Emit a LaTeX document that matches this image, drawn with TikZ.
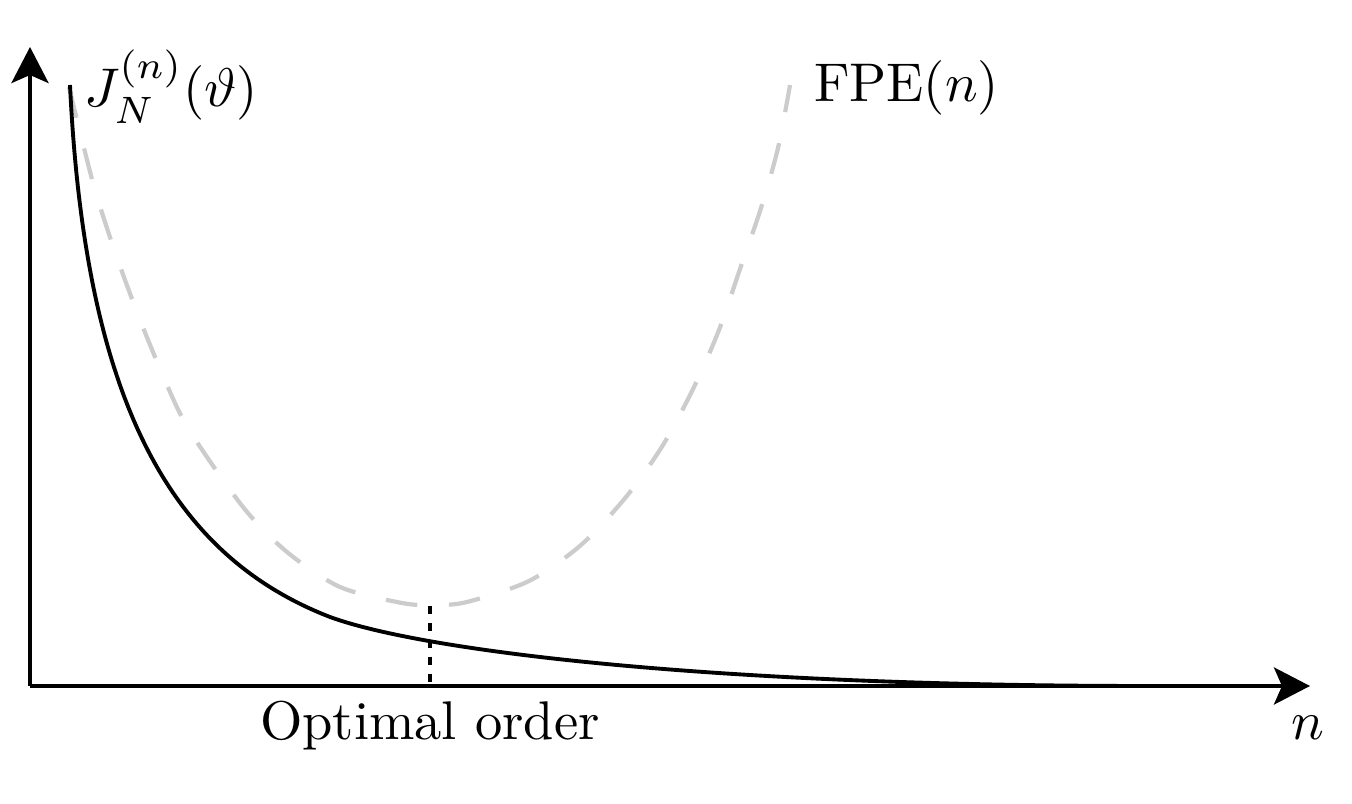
\documentclass[tikz,border=0pt]{standalone}
\usepackage{fix-cm}
\usetikzlibrary{arrows.meta}
\begin{document}
\begin{tikzpicture}[x=0.01cm, y=-0.01cm,
        axis/.style={line width=1.15pt, -{Stealth[length=0.36cm, width=0.37cm, inset=0.08cm]}},
        cost/.style={line width=1.1pt},
        fpe/.style={draw=black!20, line width=1.2pt, dash pattern=on 9pt off 9pt},
        marker/.style={line width=1.1pt, dash pattern=on 2.4pt off 2.4pt},
        label/.style={inner sep=0pt, font=\normalsize, scale=1.55, transform shape}
    ]
        \useasboundingbox (0,0) rectangle (1352,804);

        % Axes
        \coordinate (origin) at (30,686);
        \coordinate (xend) at (1310,686);
        \coordinate (yend) at (30,47);
        \draw[axis] (origin) -- (xend);
        \draw[axis] (origin) -- (yend);
        \node[label, anchor=base] (nlabel) at (1308,740) {$n$};

        % FPE curve
        \draw[fpe] plot[smooth] coordinates {(69,87) (79,128) (95,190) (115,252) (137,312) (161,371) (188,428) (243,507) (287,552) (340,587) (402,603) (434,605) (467,602) (529,581) (581,545) (626,497) (663,445) (694,387) (719,330) (740,269) (761,208) (778,148) (790,85)};

        % Loss function curve
        \coordinate (jstart) at (70,85);
        \coordinate (knee) at (330,617);
        \coordinate (jend) at (1150,686);
        \draw[cost] (jstart) .. controls (85,400) and (170,555) .. (knee)
            .. controls (420,650) and (700,686) .. (jend);

        % Optimal order marker
        \coordinate (opt) at (430,606);
        \coordinate (optfoot) at (430,686);
        \draw[marker] (opt) -- (optfoot);

        % Labels
        \node[label, anchor=base west] (jlabel) at (83,107) {$J_N^{(n)}(\vartheta)$};
        \node[label, anchor=base west] (fpelabel) at (813,102) {$\mathrm{FPE}(n)$};
        \node[label, anchor=base] (optlabel) at (430,740) {Optimal order};

    \end{tikzpicture}
\end{document}
